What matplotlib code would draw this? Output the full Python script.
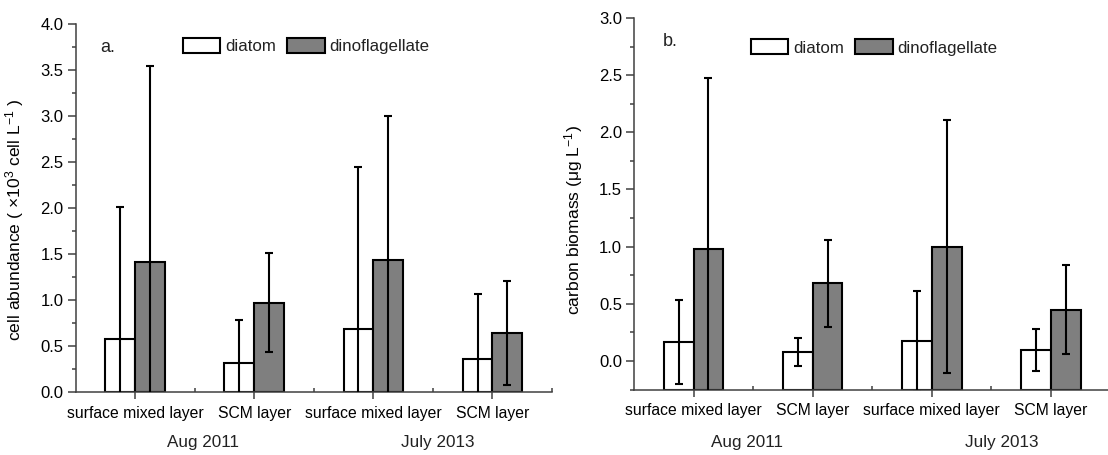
import numpy as np
import matplotlib.pyplot as plt
from matplotlib.patches import Patch
from matplotlib.ticker import MultipleLocator, FixedLocator

plt.rcParams['font.family'] = ['Liberation Sans', 'Noto Sans CJK SC', 'DejaVu Sans']
plt.rcParams['mathtext.fontset'] = 'custom'
plt.rcParams['mathtext.rm'] = 'Liberation Sans'
plt.rcParams['mathtext.default'] = 'rm'
plt.rcParams['text.color'] = '#222222'

# Layers sampled in each cruise
layers = ["surface mixed layer", "SCM layer", "surface mixed layer", "SCM layer"]
cruises = ["Aug 2011", "July 2013"]

# Cell abundance (x10^3 cell/L), mean and SD
abund_diatom = [0.575, 0.315, 0.69, 0.357]
abund_diatom_sd = [1.44, 0.465, 1.76, 0.707]
abund_dino = [1.41, 0.973, 1.433, 0.644]
abund_dino_sd = [2.13, 0.54, 1.57, 0.56]

# Carbon biomass (ug/L), mean and SD
carbon_diatom = [0.165, 0.08, 0.17, 0.093]
carbon_diatom_sd = [0.37, 0.123, 0.443, 0.182]
carbon_dino = [0.979, 0.681, 1.0, 0.449]
carbon_dino_sd = [1.5, 0.38, 1.11, 0.39]

gray = '#7f7f7f'
axis_col = '#404040'
x = np.arange(1, len(layers) + 1)
w = 0.25


def panel(ax, diatom, diatom_sd, dino, dino_sd, ymin, ymax, ylabel, tag, ylab_xy,
          leg_xy, cruise_x, cruise_y):
    # bars rise from the bottom of the axis, as in Origin
    diatom = np.array(diatom)
    dino = np.array(dino)
    ax.bar(x - w / 2, diatom - ymin, w, bottom=ymin, color='white', edgecolor='k',
           linewidth=1.5, zorder=2)
    ax.bar(x + w / 2, dino - ymin, w, bottom=ymin, color=gray, edgecolor='k',
           linewidth=1.5, zorder=2)
    ax.errorbar(x - w / 2, diatom, yerr=diatom_sd, fmt='none', ecolor='k',
                elinewidth=1.5, capsize=2.8, capthick=1.5, zorder=3)
    ax.errorbar(x + w / 2, dino, yerr=dino_sd, fmt='none', ecolor='k',
                elinewidth=1.5, capsize=2.8, capthick=1.5, zorder=3)

    ax.set_xlim(0.5, 4.5)
    ax.set_ylim(ymin, ymax)
    for s in ['top', 'right']:
        ax.spines[s].set_visible(False)
    for s in ['left', 'bottom']:
        ax.spines[s].set_color(axis_col)
        ax.spines[s].set_linewidth(1.1)

    ax.set_xticks(x)
    ax.set_xticklabels(layers, fontsize=11.3)
    ax.xaxis.set_minor_locator(FixedLocator([1.5, 2.5, 3.5, 4.5]))
    ax.yaxis.set_major_locator(MultipleLocator(0.5))
    ax.yaxis.set_minor_locator(MultipleLocator(0.25))
    ax.yaxis.set_major_formatter('{x:.1f}')
    ax.tick_params(axis='x', which='major', direction='out', length=5, width=1.1,
                   color=axis_col, pad=5)
    ax.tick_params(axis='x', which='minor', direction='in', length=3, width=1.1,
                   color=axis_col)
    ax.tick_params(axis='y', which='major', direction='out', length=5.5, width=1.1,
                   color=axis_col, labelsize=12, pad=3)
    ax.tick_params(axis='y', which='minor', direction='out', length=3, width=1.1,
                   color=axis_col)

    ax.set_ylabel(ylabel, fontsize=12.6)
    ax.yaxis.set_label_coords(*ylab_xy)

    ax.text(tag[1], tag[2], tag[0], transform=ax.transAxes, fontsize=13, va='baseline')

    handles = [Patch(facecolor='white', edgecolor='k', linewidth=1.5),
               Patch(facecolor=gray, edgecolor='k', linewidth=1.5)]
    ax.legend(handles, ['diatom', 'dinoflagellate'], ncol=2, frameon=False,
              loc='center left', bbox_to_anchor=leg_xy, fontsize=12.2,
              handlelength=2.2, handleheight=0.95, handletextpad=0.3,
              columnspacing=0.65, borderpad=0, borderaxespad=0)

    for cx, name in zip(cruise_x, cruises):
        ax.text(cx, cruise_y, name, transform=ax.get_xaxis_transform(),
                ha='center', va='center', fontsize=12.3)


fig = plt.figure(figsize=(11.08, 4.55), dpi=100)

ax1 = fig.add_axes([75.5 / 1108, 62.7 / 455, 476.5 / 1108, 368.3 / 455])
panel(ax1, abund_diatom, abund_diatom_sd, abund_dino, abund_dino_sd, 0, 4.0,
      r'cell abundance ( ×10$^3$ cell L$^{-1}$ )', ('a.', 0.051, 0.924),
      (-0.104, 0.468), (0.2256, 0.940), (1.57, 3.54), -0.135)

ax2 = fig.add_axes([634 / 1108, 65.5 / 455, 476.5 / 1108, 371.5 / 455])
panel(ax2, carbon_diatom, carbon_diatom_sd, carbon_dino, carbon_dino_sd, -0.25, 3.0,
      r'carbon biomass (μg L$^{-1}$)', ('b.', 0.061, 0.9246),
      (-0.103, 0.456), (0.2455, 0.9206), (1.45, 3.59), -0.144)

fig.savefig('out.png', dpi=100)
